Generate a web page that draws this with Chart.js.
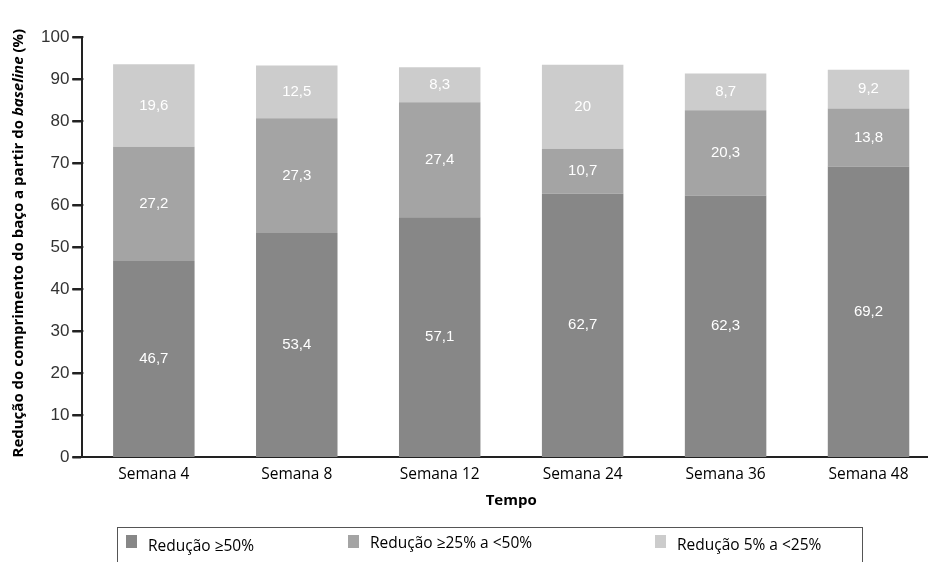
<!DOCTYPE html>
<html>
<head>
<meta charset="utf-8">
<script src="https://cdn.jsdelivr.net/npm/chart.js@4"></script>
<style>
  html, body { margin: 0; padding: 0; background: #fff; overflow: hidden; }
  #wrap { width: 940px; height: 562px; position: relative; }
</style>
</head>
<body>
<div id="wrap"><canvas id="grafico"></canvas></div>
<script>
var semanas = ["Semana 4", "Semana 8", "Semana 12", "Semana 24", "Semana 36", "Semana 48"];
var reducao50 = [46.7, 53.4, 57.1, 62.7, 62.3, 69.2];
var reducao25a50 = [27.2, 27.3, 27.4, 10.7, 20.3, 13.8];
var reducao5a25 = [19.6, 12.5, 8.3, 20, 8.7, 9.2];
var yTicks = [0, 10, 20, 30, 40, 50, 60, 70, 80, 90, 100];

var nomesSeries = ["Redução ≥50%", "Redução ≥25% a <50%", "Redução 5% a <25%"];
var cores = ["#878787", "#a4a4a4", "#cccccc"];

// rotulos brancos dentro das barras
var rotulos = {
  id: "rotulos",
  afterDatasetsDraw: function(chart) {
    var ctx = chart.ctx;
    ctx.save();
    ctx.fillStyle = "#ffffff";
    ctx.font = "15px 'Liberation Sans', Arial, sans-serif";
    ctx.textAlign = "center";
    ctx.textBaseline = "middle";
    chart.data.datasets.forEach(function(ds, i) {
      chart.getDatasetMeta(i).data.forEach(function(bar, j) {
        var txt = String(ds.data[j]).replace(".", ",");
        ctx.fillText(txt, bar.x, (bar.y + bar.base) / 2);
      });
    });
    ctx.restore();
  }
};

// tracinhos do eixo y (para fora)
var tracosY = {
  id: "tracosY",
  afterDraw: function(chart) {
    var escala = chart.scales.y;
    var x0 = chart.chartArea.left;
    var ctx = chart.ctx;
    ctx.save();
    ctx.strokeStyle = "#222222";
    ctx.lineWidth = 2;
    ctx.beginPath();
    yTicks.forEach(function(v) {
      var py = Math.round(escala.getPixelForValue(v));
      ctx.moveTo(x0 - 10, py);
      ctx.lineTo(x0 + 1, py);
    });
    ctx.stroke();
    ctx.restore();
  }
};

// titulo do eixo y com "baseline" em italico
var tituloY = {
  id: "tituloY",
  afterDraw: function(chart) {
    var ctx = chart.ctx;
    var partes = [
      ["Redução do comprimento do baço a partir do ", "bold 15px 'Open Sans', sans-serif"],
      ["baseline", "italic bold 15px 'Open Sans', sans-serif"],
      [" (%)", "bold 15px 'Open Sans', sans-serif"]
    ];
    var total = 0;
    partes.forEach(function(p) { ctx.font = p[1]; total += ctx.measureText(p[0]).width; });
    var area = chart.chartArea;
    ctx.save();
    ctx.translate(19, (area.top + area.bottom) / 2 - 4);
    ctx.rotate(-Math.PI / 2);
    ctx.fillStyle = "#000";
    ctx.textBaseline = "middle";
    var x = -total / 2;
    partes.forEach(function(p) {
      ctx.font = p[1];
      ctx.fillText(p[0], x, 0);
      x += ctx.measureText(p[0]).width;
    });
    ctx.restore();
  }
};

// legenda em caixa na parte de baixo
var legendaCaixa = {
  id: "legendaCaixa",
  afterDraw: function(chart) {
    var ctx = chart.ctx;
    var posX = [126, 348, 655];
    var posY = [547, 544, 546];
    ctx.save();
    ctx.strokeStyle = "#555";
    ctx.lineWidth = 1;
    ctx.strokeRect(117.5, 527.5, 745, 60);
    ctx.font = "15.5px 'Open Sans', sans-serif";
    ctx.textBaseline = "middle";
    chart.data.datasets.forEach(function(ds, i) {
      ctx.fillStyle = ds.backgroundColor;
      ctx.fillRect(posX[i], 535, 11, 13);
      ctx.fillStyle = "#000";
      ctx.fillText(ds.label, posX[i] + 22, posY[i]);
    });
    ctx.restore();
  }
};

new Chart("grafico", {
  type: "bar",
  data: {
    labels: semanas,
    datasets: [
      { label: nomesSeries[0], data: reducao50, backgroundColor: cores[0] },
      { label: nomesSeries[1], data: reducao25a50, backgroundColor: cores[1] },
      { label: nomesSeries[2], data: reducao5a25, backgroundColor: cores[2] }
    ]
  },
  options: {
    responsive: true,
    maintainAspectRatio: false,
    animation: false,
    layout: { padding: { left: 38, top: 37, right: 0, bottom: 48 } },
    datasets: { bar: { barPercentage: 0.57, categoryPercentage: 1 } },
    plugins: {
      legend: { display: false },
      tooltip: { enabled: false }
    },
    scales: {
      x: {
        stacked: true,
        grid: { display: false, drawTicks: false },
        border: { color: "#222", width: 2 },
        ticks: { color: "#000", padding: 8, font: { family: "'Open Sans', sans-serif", size: 15.5 } },
        title: { display: true, text: "Tempo", color: "#000", padding: { top: 0 },
                 font: { family: "'Open Sans', sans-serif", size: 15, weight: "bold" } }
      },
      y: {
        stacked: true,
        min: 0,
        max: 100,
        afterBuildTicks: function(axis) {
          axis.ticks = yTicks.map(function(v) { return { value: v }; });
        },
        grid: { display: true, drawOnChartArea: false, drawTicks: true, tickLength: 10, tickColor: "#222", tickWidth: 2, color: "#222" },
        border: { color: "#222", width: 2 },
        ticks: { color: "#333", padding: 3, font: { family: "'Liberation Sans', Arial, sans-serif", size: 17 } }
      }
    }
  },
  plugins: [rotulos, tracosY, tituloY, legendaCaixa]
});
</script>
</body>
</html>
